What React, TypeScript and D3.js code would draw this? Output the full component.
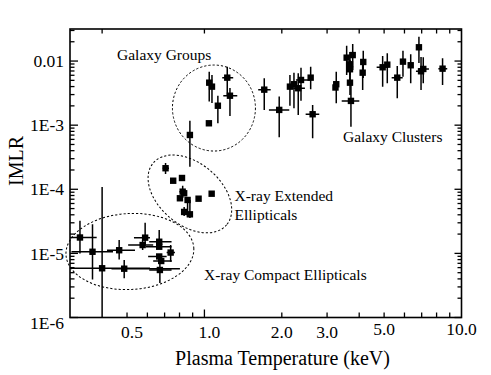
import React from "react";
import * as d3 from "d3";

// [T (keV), IMLR, T low, T high, IMLR low, IMLR high]
type Pt = [number, number, number | null, number | null, number | null, number | null];

const galaxyClusters: Pt[] = [
  [1.709, 3.58e-3, 1.619, 1.81, 1.73e-3, 5.39e-3],
  [1.954, 1.73e-3, 1.782, 2.138, 6.48e-4, 2.79e-3],
  [2.151, 3.99e-3, null, null, 2.0e-3, 6.07e-3],
  [2.23, 4.35e-3, null, null, 1.84e-3, 6.59e-3],
  [2.317, 3.77e-3, 2.216, 2.46, 1.44e-3, 6.45e-3],
  [2.375, 5.07e-3, 2.27, 2.59, 2.41e-3, 7.89e-3],
  [2.59, 5.51e-3, null, null, 3.63e-3, 8.18e-3],
  [2.636, 1.48e-3, 2.476, 2.797, 6.25e-4, 2.07e-3],
  [3.257, 4.35e-3, null, null, 2.2e-3, 6.84e-3],
  [3.234, 3.87e-3, null, null, null, null],
  [3.575, 1.13e-2, null, null, 6.07e-3, 1.74e-2],
  [3.774, 1.24e-2, null, null, 7.26e-3, 1.85e-2],
  [3.683, 8.91e-3, null, null, 6.07e-3, 1.39e-2],
  [3.683, 7.45e-3, null, null, 4.24e-3, 1.04e-2],
  [3.683, 4.6e-3, null, null, 2.96e-3, 7.26e-3],
  [3.715, 2.39e-3, 3.42, 4.004, 9.48e-4, 4.72e-3],
  [4.148, 9.68e-3, null, null, 5.45e-3, 1.45e-2],
  [4.126, 6.59e-3, null, null, 3.54e-3, 1.04e-2],
  [4.935, 8.0e-3, 4.677, 5.19, 3.99e-3, 1.2e-2],
  [5.144, 8.79e-3, null, null, 4.51e-3, 1.32e-2],
  [5.625, 5.51e-3, 5.35, 5.905, 2.63e-3, 8.39e-3],
  [5.92, 9.79e-3, null, null, 5.71e-3, 1.45e-2],
  [6.345, 8.6e-3, null, null, 4.51e-3, 1.28e-2],
  [6.83, 1.64e-2, null, null, 9.33e-3, 2.4e-2],
  [6.96, 6.93e-3, 6.65, 7.28, 3.54e-3, 1.16e-2],
  [7.1, 7.53e-3, 6.83, 7.47, 4.51e-3, 1.15e-2],
  [8.44, 7.61e-3, 8.13, 8.8, 4.24e-3, 1.11e-2],
];

const galaxyGroups: Pt[] = [
  [1.044, 4.6e-3, null, null, 2.33e-3, 6.84e-3],
  [1.07, 3.99e-3, null, null, 2.22e-3, 6.07e-3],
  [1.227, 5.51e-3, 1.173, 1.294, 2.96e-3, 8.18e-3],
  [1.257, 2.88e-3, 1.184, 1.342, 1.39e-3, 3.8e-3],
  [1.128, 2.01e-3, null, null, 1.07e-3, 2.88e-3],
  [1.041, 1.07e-3, null, null, null, null],
  [0.878, 7.03e-4, 0.855, 0.902, 2.25e-4, 1.17e-3],
];

const extendedEllipticals: Pt[] = [
  [0.706, 2.13e-4, 0.688, 0.728, 1.73e-4, 2.57e-4],
  [0.756, 1.36e-4, null, null, null, null],
  [0.818, 1.5e-4, null, null, null, null],
  [0.823, 9.18e-5, 0.799, 0.847, 7.31e-5, 1.13e-4],
  [0.834, 8.66e-5, null, null, null, null],
  [0.803, 7.24e-5, 0.784, 0.823, null, null],
  [0.86, 6.81e-5, null, null, 3.74e-5, 7.59e-5],
  [0.949, 7.13e-5, null, null, null, null],
  [1.067, 8.53e-5, null, null, null, null],
  [0.834, 4.43e-5, null, null, 3.83e-5, 5.3e-5],
  [0.878, 4.07e-5, null, null, 3.57e-5, 6.81e-5],
];

const compactEllipticals: Pt[] = [
  [0.328, 1.77e-5, 0.3, 0.381, 1.0e-5, 3.24e-5],
  [0.367, 1.06e-5, 0.304, 0.441, 3.92e-6, 2.84e-5],
  [0.4, 5.86e-6, 0.3, 0.614, 1e-6, 1.09e-4],
  [0.466, 1.12e-5, 0.418, 0.537, 8.0e-6, 1.62e-5],
  [0.4875, 5.77e-6, 0.435, 0.803, 4.09e-6, 7.89e-6],
  [0.575, 1.35e-5, 0.505, 0.632, 1.13e-5, 1.62e-5],
  [0.588, 1.76e-5, 0.532, 0.614, 1.39e-5, 3.01e-5],
  [0.667, 1.52e-5, 0.61, 0.745, 1.35e-5, 2.32e-5],
  [0.667, 1.27e-5, 0.592, 0.745, null, null],
  [0.739, 1.03e-5, 0.713, 0.768, 7.42e-6, 1.35e-5],
  [0.667, 8.95e-6, 0.604, 0.713, null, null],
  [0.679, 7.61e-6, 0.632, 0.747, null, null],
  [0.671, 5.51e-6, 0.61, 0.745, 3.45e-6, 7.89e-6],
];

// region ellipses: centre (T, IMLR), radii in px, rotation in degrees
const regionCenters: [number, number][] = [
  [1.089, 1.85e-3],
  [0.878, 8.46e-5],
  [0.513, 1.07e-5],
];
const regionShapes: [number, number, number][] = [
  [41.5, 43, 0],
  [48, 31, 40],
  [64, 38, -3],
];

const xTickValues = [0.5, 1, 2, 3, 5, 10];
const xTickLabels = ["0.5", "1.0", "2.0", "3.0", "5.0", "10.0"];
const yTickValues = [1e-6, 1e-5, 1e-4, 1e-3, 1e-2];
const yTickLabels = ["1E-6", "1E-5", "1E-4", "1E-3", "0.01"];
const xBottomMinor = [0.5, 0.6, 0.7, 0.8, 0.9, 2, 3, 4, 5, 6, 7, 8, 9];
const xTopTicks = [0.4, 1, 2, 3, 4, 5, 6, 7, 8, 9];

const L = 70, R = 461.5, T = 29, B = 317.5;
const FONT = "'Liberation Serif', 'Times New Roman', Times, serif";

export default function App() {
  const x = d3.scaleLog().domain([0.3, 10]).range([L, R]);
  const y = d3.scaleLog().domain([1e-6, Math.pow(10, -1.5)]).range([B, T]);

  const yMinor: number[] = [];
  for (let e = -6; e <= -2; e++) {
    for (let k = 2; k <= 9; k++) {
      const v = k * Math.pow(10, e);
      if (v < Math.pow(10, -1.5)) yMinor.push(v);
    }
  }

  const all = [...galaxyClusters, ...galaxyGroups, ...extendedEllipticals, ...compactEllipticals];
  const sq = 6.4;

  return (
    <div style={{ position: "absolute", left: 0, top: 0 }}>
      <svg width={491} height={375} style={{ display: "block", background: "#fff" }}>
        <defs>
          <clipPath id="plotClip">
            <rect x={L} y={T} width={R - L} height={B - T} />
          </clipPath>
        </defs>
        <rect x={0} y={0} width={491} height={375} fill="#fff" />

        {/* ellipses */}
        <g fill="none" stroke="#000" strokeWidth={1} strokeDasharray="2.2,2">
          {regionCenters.map((c, i) => (
            <ellipse
              key={i}
              cx={0}
              cy={0}
              rx={regionShapes[i][0]}
              ry={regionShapes[i][1]}
              transform={`translate(${x(c[0])},${y(c[1])}) rotate(${regionShapes[i][2]})`}
            />
          ))}
        </g>

        {/* error bars */}
        <g clipPath="url(#plotClip)" stroke="#000" strokeWidth={1.5}>
          {all.map((p, i) => (
            <g key={i}>
              {p[2] !== null && p[3] !== null && (
                <line x1={x(p[2] as number)} x2={x(p[3] as number)} y1={y(p[1])} y2={y(p[1])} />
              )}
              {p[4] !== null && p[5] !== null && (
                <line x1={x(p[0])} x2={x(p[0])} y1={y(p[4] as number)} y2={y(p[5] as number)} />
              )}
            </g>
          ))}
        </g>
        <g fill="#000">
          {all.map((p, i) => (
            <rect key={i} x={x(p[0]) - sq / 2} y={y(p[1]) - sq / 2} width={sq} height={sq} />
          ))}
        </g>

        {/* frame and ticks */}
        <g stroke="#000" strokeWidth={1.3}>
          {yTickValues.map((v) => (
            <g key={"ym" + v}>
              <line x1={L} x2={L + 8} y1={y(v)} y2={y(v)} />
              <line x1={R} x2={R - 7} y1={y(v)} y2={y(v)} />
            </g>
          ))}
          {yMinor.map((v) => (
            <g key={"yn" + v}>
              <line x1={L} x2={L + 4.5} y1={y(v)} y2={y(v)} />
              <line x1={R} x2={R - 4} y1={y(v)} y2={y(v)} />
            </g>
          ))}
          <line x1={x(1)} x2={x(1)} y1={B} y2={B - 8} />
          {xBottomMinor.map((v) => (
            <line key={"xb" + v} x1={x(v)} x2={x(v)} y1={B} y2={B - 5} />
          ))}
          {xTopTicks.map((v) => (
            <line key={"xt" + v} x1={x(v)} x2={x(v)} y1={T} y2={T + 4.5} />
          ))}
        </g>
        <rect x={L} y={T} width={R - L} height={B - T} fill="none" stroke="#000" strokeWidth={1.6} />

        {/* tick labels */}
        <g fontFamily={FONT} fontSize={17.5} fill="#000">
          {yTickValues.map((v, i) => (
            <text key={"yl" + v} x={64} y={y(v) + (i === 0 ? 5 : 0)} dy="0.35em" textAnchor="end">
              {yTickLabels[i]}
            </text>
          ))}
          {xTickValues.map((v, i) => (
            <text key={"xl" + v} x={x(v) + (v < 2 ? 5 : 0)} y={v >= 5 ? 335 : 338} textAnchor="middle">
              {xTickLabels[i]}
            </text>
          ))}
        </g>

        {/* axis titles */}
        <text x={282.5} y={365} fontFamily={FONT} fontSize={20} textAnchor="middle">
          Plasma Temperature (keV)
        </text>
        <text
          transform="translate(22.5,161) rotate(-90)"
          fontFamily={FONT}
          fontSize={20}
          textAnchor="middle"
        >
          IMLR
        </text>

        {/* annotations */}
        <g fontFamily={FONT} fontSize={15.5} fill="#000">
          <text x={117} y={60}>Galaxy Groups</text>
          <text x={343} y={142}>Galaxy Clusters</text>
          <text x={234.5} y={201}>X-ray Extended</text>
          <text x={234.5} y={219.5}>Ellipticals</text>
          <text x={204} y={280}>X-ray Compact Ellipticals</text>
        </g>
      </svg>
    </div>
  );
}
